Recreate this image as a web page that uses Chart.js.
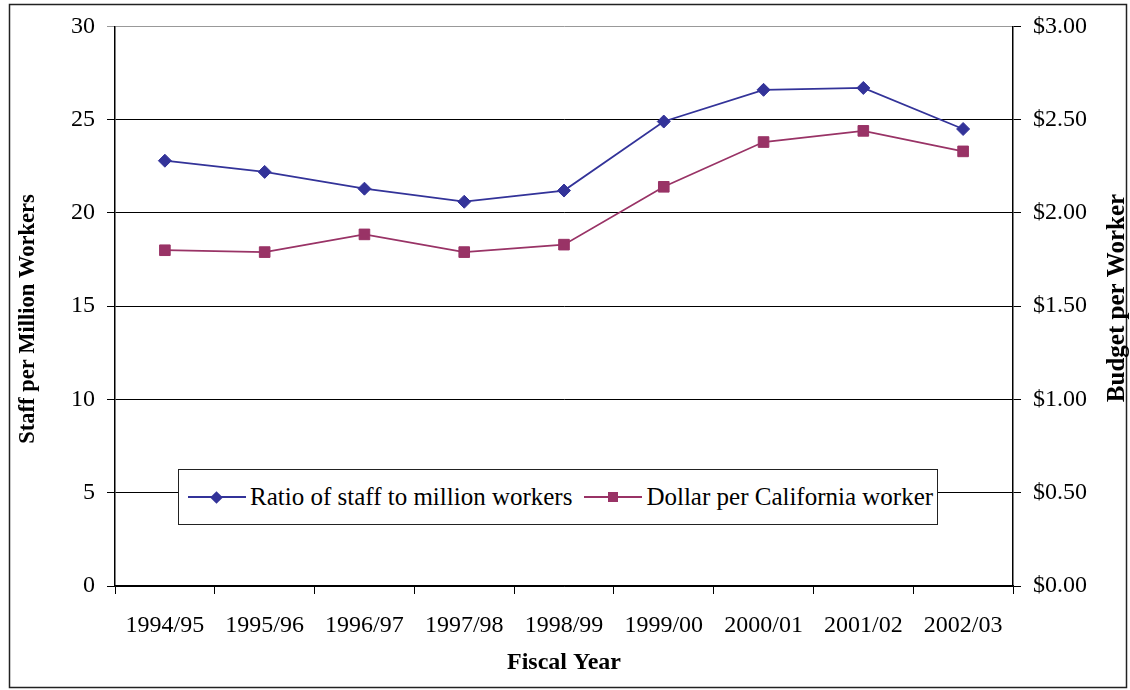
<!DOCTYPE html>
<html>
<head>
<meta charset="utf-8">
<script src="https://cdn.jsdelivr.net/npm/chart.js@4.4.1/dist/chart.umd.min.js"></script>
<style>
  body { margin: 0; background: #fff; }
  #wrap { position: relative; width: 1130px; height: 690px; }
  #legend {
    position: absolute; left: 178px; top: 469px; width: 760px; height: 56px;
    box-sizing: border-box; border: 1px solid #222; background: #fff;
    display: flex; align-items: center; padding-left: 9px;
    font-family: 'Liberation Serif', serif; font-size: 25px; color: #000; white-space: nowrap;
  }
  .item { display: flex; align-items: center; margin-right: 12px; }
  .swatch { position: relative; width: 58px; height: 14px; margin-right: 4px; }
  .swatch .ln { position: absolute; left: 0; right: 0; top: 6px; height: 2px; }
  .swatch .mk { position: absolute; left: 24px; top: 2px; width: 10px; height: 10px; }
  .swatch .mk.diamond { transform: rotate(45deg); width: 9px; height: 9px; left: 24px; top: 2.5px; }
</style>
</head>
<body>
<div id="wrap">
  <canvas id="chart"></canvas>
  <div id="legend"></div>
</div>
<script>
const fiscalYears = ['1994/95', '1995/96', '1996/97', '1997/98', '1998/99', '1999/00', '2000/01', '2001/02', '2002/03'];
const staffRatio = [22.8, 22.2, 21.3, 20.6, 21.2, 24.9, 26.6, 26.7, 24.5];
const dollarPerWorker = [1.80, 1.79, 1.885, 1.79, 1.83, 2.14, 2.38, 2.44, 2.33];
const staffTicks = [0, 5, 10, 15, 20, 25, 30];

const BLUE = '#333399';
const PLUM = '#993366';
const FONT = "'Liberation Serif', 'Times New Roman', serif";

// outer frame + both side titles (drawn by hand so they sit where the original has them)
const extras = {
  id: 'extras',
  afterDraw(chart) {
    const ctx = chart.ctx;
    const vtitle = (text, x, y, size) => {
      ctx.save();
      ctx.translate(x, y);
      ctx.rotate(-Math.PI / 2);
      ctx.font = `bold ${size}px ${FONT}`;
      ctx.fillStyle = '#000';
      ctx.textAlign = 'center';
      ctx.textBaseline = 'middle';
      ctx.fillText(text, 0, 0);
      ctx.restore();
    };
    ctx.save();
    ctx.strokeStyle = '#222';
    ctx.lineWidth = 1.5;
    ctx.strokeRect(9.5, 4.5, 1117, 683);
    ctx.restore();
    vtitle('Staff per Million Workers', 28, 319, 22.5);
    vtitle('Budget per Worker', 1118, 298, 25);
  }
};

const chart = new Chart(document.getElementById('chart'), {
  type: 'line',
  data: {
    labels: fiscalYears,
    datasets: [{
      label: 'Ratio of staff to million workers',
      data: staffRatio, yAxisID: 'y',
      borderColor: BLUE, backgroundColor: BLUE, borderWidth: 1.75,
      pointStyle: 'rectRot', pointRadius: 6.5, pointBorderWidth: 1
    }, {
      label: 'Dollar per California worker',
      data: dollarPerWorker, yAxisID: 'y1',
      borderColor: PLUM, backgroundColor: PLUM, borderWidth: 1.75,
      pointStyle: 'rect', pointRadius: 7.5, pointBorderWidth: 1
    }]
  },
  options: {
    responsive: true, maintainAspectRatio: false, animation: false,
    layout: { padding: { left: 10, right: 3, top: 26, bottom: 4 } },
    plugins: { legend: { display: false }, tooltip: { enabled: false } },
    scales: {
      x: {
        offset: true,
        afterFit: (s) => { s.height = 100; },
        grid: { offset: true, drawOnChartArea: false, tickLength: 8, color: '#000' },
        border: { color: '#000', width: 1.5 },
        ticks: { color: '#000', font: { family: FONT, size: 24 }, padding: 17, maxRotation: 0 },
        title: { display: true, text: 'Fiscal Year', color: '#000',
          font: { family: FONT, size: 24, weight: 'bold' }, padding: { top: 4, bottom: 9 } }
      },
      y: {
        min: 0, max: 30,
        afterFit: (s) => { s.width = 105; },
        afterBuildTicks: (s) => { s.ticks = staffTicks.map(v => ({ value: v })); },
        grid: { color: (c) => c.tick && c.tick.value === 30 ? '#999' : '#000', tickLength: 8 },
        border: { color: '#000', width: 1.5 },
        ticks: { color: '#000', font: { family: FONT, size: 24 }, padding: 12 }
      },
      y1: {
        position: 'right', min: 0, max: 3,
        afterFit: (s) => { s.width = 114; },
        grid: { drawOnChartArea: false, tickLength: 8, color: '#000' },
        border: { color: '#000', width: 1.5 },
        ticks: { stepSize: 0.5, color: '#000', font: { family: FONT, size: 24 }, padding: 12,
          callback: (v) => '$' + Number(v).toFixed(2) }
      }
    }
  },
  plugins: [extras]
});

// legend inside the plot, built from the datasets
document.getElementById('legend').innerHTML = chart.data.datasets.map(d => `
  <span class="item">
    <span class="swatch">
      <span class="ln" style="background:${d.borderColor}"></span>
      <span class="mk ${d.pointStyle === 'rectRot' ? 'diamond' : ''}" style="background:${d.borderColor}"></span>
    </span>${d.label}</span>`).join('');
</script>
</body>
</html>
